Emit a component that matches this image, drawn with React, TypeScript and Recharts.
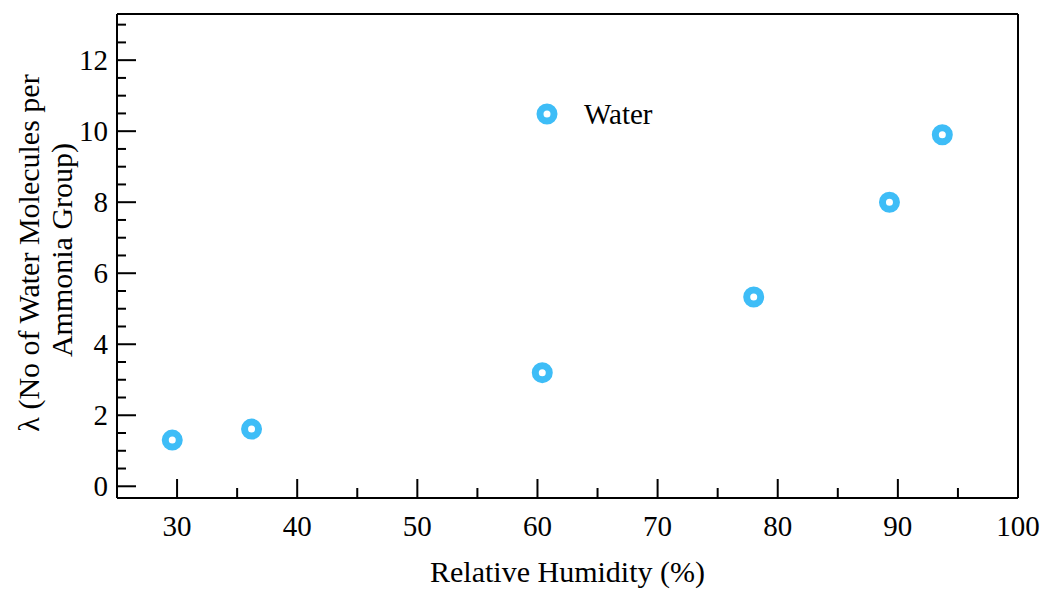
import React from 'react';
import {
  ScatterChart,
  Scatter,
  XAxis,
  YAxis,
  ReferenceLine
} from 'recharts';

// values
const humidity = [29.6, 36.2, 60.4, 78.0, 89.3, 93.7];
const lambda = [1.3, 1.61, 3.2, 5.33, 8.0, 9.9];
const xTicks = [25, 30, 35, 40, 45, 50, 55, 60, 65, 70, 75, 80, 85, 90, 95, 100];
const yTicks = [0, 0.5, 1, 1.5, 2, 2.5, 3, 3.5, 4, 4.5, 5, 5.5, 6, 6.5, 7, 7.5, 8, 8.5, 9, 9.5, 10, 10.5, 11, 11.5, 12, 12.5, 13];
const seriesName = 'Water';

const data = humidity.map((h, i) => ({ rh: h, lambda: lambda[i] }));

const W = 1045;
const H = 589;
const PLOT_LEFT = 117;
const PLOT_BOTTOM = 498;
const FONT = '"Liberation Serif", "DejaVu Serif", serif';
const FS = 29;
const LFS = 30;
const BLUE = '#3ebdf7';

const Ring = (props: any) => {
  const { cx, cy } = props;
  return <circle cx={cx} cy={cy} r={7} fill="#fff" stroke={BLUE} strokeWidth={7} />;
};

const YTick = ({ y, payload }: any) => {
  const v = payload.value;
  const major = v % 2 === 0;
  return (
    <g>
      <line x1={PLOT_LEFT} x2={PLOT_LEFT + (major ? 19 : 9)} y1={y} y2={y} stroke="#000" strokeWidth={2} />
      {major && (
        <text x={PLOT_LEFT - 9} y={y} dy={10} textAnchor="end" fontFamily={FONT} fontSize={FS} fill="#000">
          {v}
        </text>
      )}
    </g>
  );
};

const XTick = ({ x, payload }: any) => {
  const v = payload.value;
  const major = v % 10 === 0;
  return (
    <g>
      <line x1={x} x2={x} y1={PLOT_BOTTOM} y2={PLOT_BOTTOM - (major ? 19 : 10)} stroke="#000" strokeWidth={2} />
      {major && (
        <text x={x} y={PLOT_BOTTOM + 38} textAnchor="middle" fontFamily={FONT} fontSize={FS} fill="#000">
          {v}
        </text>
      )}
    </g>
  );
};

export default function App() {
  return (
    <div style={{ position: 'absolute', left: 0, top: 0, width: W, height: H, background: '#fff' }}>
      <ScatterChart width={W} height={H} margin={{ top: 14, right: 27, left: 0, bottom: 0 }}>
        <XAxis
          type="number"
          dataKey="rh"
          domain={[25, 100]}
          ticks={xTicks}
          interval={0}
          allowDataOverflow
          height={91}
          stroke="#000"
          strokeWidth={2}
          tickLine={false}
          tick={<XTick />}
          label={{ value: 'Relative Humidity (%)', position: 'insideBottom', offset: 7, fontFamily: FONT, fontSize: LFS, fill: '#000' }}
        />
        <YAxis
          type="number"
          dataKey="lambda"
          domain={[-0.33, 13.3]}
          ticks={yTicks}
          interval={0}
          allowDataOverflow
          width={117}
          stroke="#000"
          strokeWidth={2}
          tickLine={false}
          tick={<YTick />}
        />
        <ReferenceLine x={100} stroke="#000" strokeWidth={2} ifOverflow="extendDomain" />
        <ReferenceLine y={13.3} stroke="#000" strokeWidth={2} ifOverflow="extendDomain" />
        <Scatter name={seriesName} data={data} shape={<Ring />} isAnimationActive={false} />
        {/* legend */}
        <circle cx={547} cy={114} r={7} fill="#fff" stroke={BLUE} strokeWidth={7} />
        <text x={584} y={124} fontFamily={FONT} fontSize={FS} fill="#000">{seriesName}</text>
        <text
          transform="translate(28,253) rotate(-90)"
          textAnchor="middle"
          dominantBaseline="central"
          fontFamily={FONT}
          fontSize={LFS}
          fill="#000"
        >
          λ (No of Water Molecules per
        </text>
        <text
          transform="translate(61,250) rotate(-90)"
          textAnchor="middle"
          dominantBaseline="central"
          fontFamily={FONT}
          fontSize={LFS}
          fill="#000"
        >
          Ammonia Group)
        </text>
      </ScatterChart>
    </div>
  );
}
